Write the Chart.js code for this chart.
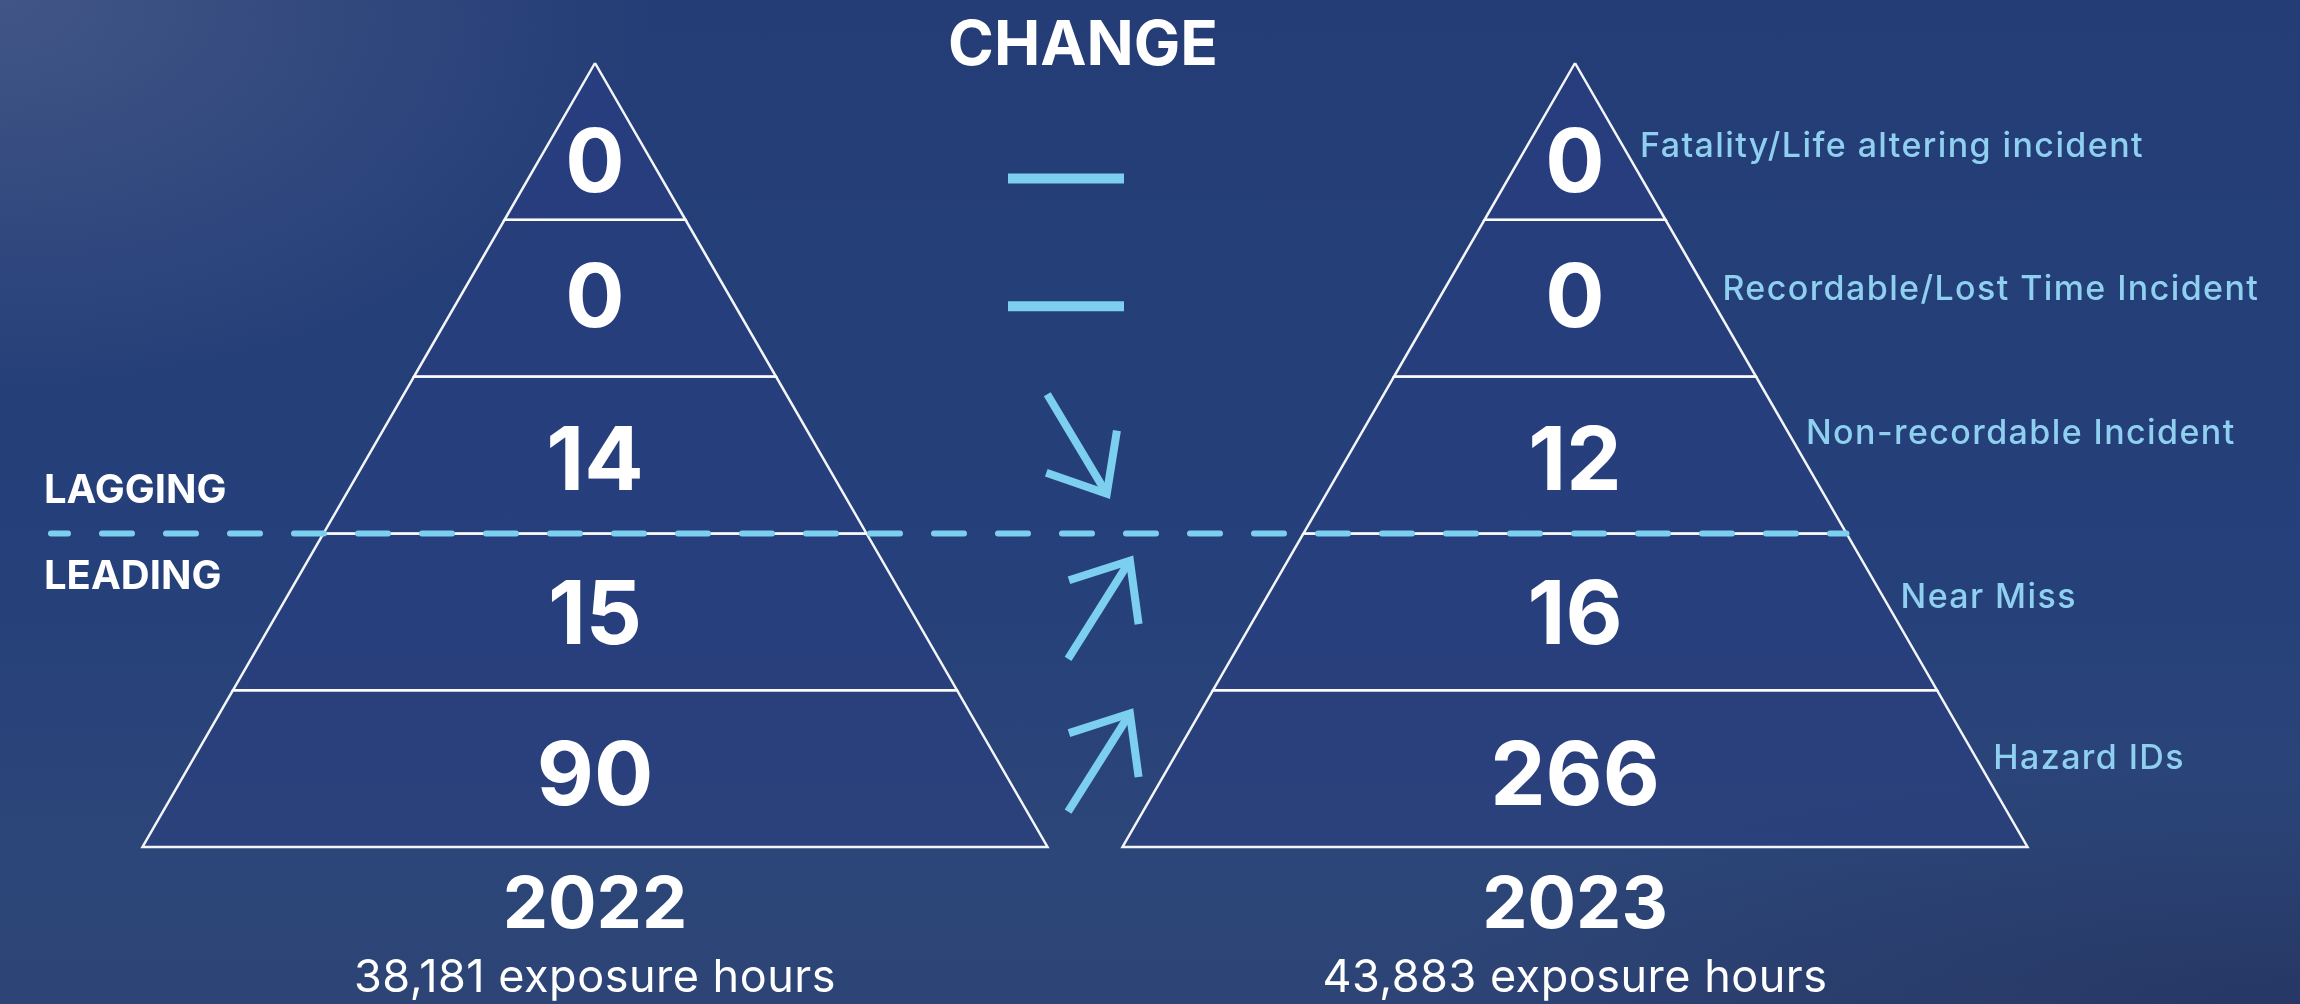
<!DOCTYPE html>
<html><head><meta charset="utf-8">
<script src="https://cdn.jsdelivr.net/npm/chart.js@4.4.1/dist/chart.umd.min.js"></script>
<style>
html,body{margin:0;padding:0;width:2300px;height:1004px;overflow:hidden;}
body{background:
 radial-gradient(ellipse 650px 400px at 0px 0px, rgba(95,110,150,0.5) 0%, rgba(95,110,150,0) 100%),
 radial-gradient(ellipse 900px 240px at 2300px 1004px, rgba(30,40,80,0.45) 0%, rgba(30,40,80,0) 100%),
 linear-gradient(180deg, #243d76 0%, #25407a 55%, #2c4679 85%, #2d4475 100%);}
canvas{display:block}
</style></head><body>
<canvas id="c" width="2300" height="1004"></canvas>
<script>
// ---------- DATA (top of pyramid to bottom) ----------
const categories = ["Fatality/Life altering incident","Recordable/Lost Time Incident","Non-recordable Incident","Near Miss","Hazard IDs"];
const values2022 = [0, 0, 14, 15, 90];
const values2023 = [0, 0, 12, 16, 266];
const years = ["2022", "2023"];
const exposureHours = [38181, 43883];
const groupLabels = ["LAGGING", "LEADING"];
const laggingCount = 3;
const title = "CHANGE";

// ---------- LAYOUT ----------
const W = 2300, H = 1004;
const APEX_Y = 63, BASE_Y = 847, HALF_BASE = 452.5;
const CENTERS = [595, 1575];
const N = categories.length;
const BAND_H = (BASE_Y - APEX_Y) / N;
const FONT = "Inter";
const LIGHT = "#7dcff0";
const LABEL_COLOR = "#8fd0f0";
const valueYShift = [19, -3, 3, 0, 4];
const labelYShift = [3, -11, -23, -16, -12];
const changeYShift = [37, 8, -11, -2, -6];
const MID_X = (CENTERS[0] + CENTERS[1]) / 2;

const allValues = [values2022, values2023];
const halfW = y => (y - APEX_Y) / (BASE_Y - APEX_Y) * HALF_BASE;
const bandTop = k => APEX_Y + k * BAND_H;
const bandMid = k => APEX_Y + (k + 0.5) * BAND_H;

const datasets = [];
// pyramid band fills + outlines
CENTERS.forEach((cx, p) => {
  for (let k = 0; k < N; k++) {
    const y0 = bandTop(k), y1 = bandTop(k + 1);
    const pts = [
      {x: cx - halfW(y0), y: y0}, {x: cx + halfW(y0), y: y0},
      {x: cx + halfW(y1), y: y1}, {x: cx - halfW(y1), y: y1},
      {x: cx - halfW(y0), y: y0}
    ];
    datasets.push({
      label: years[p] + " " + categories[k],
      data: pts, showLine: true, fill: 'shape',
      backgroundColor: k === 0 ? "rgba(42,61,132,0.55)" : "rgba(42,62,128,0.55)",
      borderColor: "rgba(255,255,255,0.95)", borderWidth: 2.5,
      borderJoinStyle: 'miter', order: 3
    });
  }
});

// change symbols computed from the data
function arrowSets(cx, cy, dx, dy) {
  const len = Math.hypot(dx, dy); dx /= len; dy /= len;
  const L = 116, A = 64, ang = 40 * Math.PI / 180;
  const tail = {x: cx - dx * L / 2, y: cy - dy * L / 2};
  const tip = {x: cx + dx * L / 2, y: cy + dy * L / 2};
  const rx = -dx, ry = -dy;
  const rot = a => ({x: tip.x + (rx * Math.cos(a) - ry * Math.sin(a)) * A, y: tip.y + (rx * Math.sin(a) + ry * Math.cos(a)) * A});
  const common = {showLine: true, fill: false, borderColor: LIGHT, borderWidth: 8, borderCapStyle: 'butt', borderJoinStyle: 'miter', order: 1};
  return [
    Object.assign({label: 'shaft', data: [tail, tip]}, common),
    Object.assign({label: 'head', data: [rot(ang), tip, rot(-ang)]}, common)
  ];
}
for (let k = 0; k < N; k++) {
  const a = values2022[k], b = values2023[k];
  const cy = bandMid(k) + changeYShift[k];
  if (a === b) {
    datasets.push({label: 'same', data: [{x: MID_X - 77, y: cy}, {x: MID_X + 39, y: cy}], showLine: true, fill: false,
      borderColor: LIGHT, borderWidth: 10, borderCapStyle: 'butt', order: 1});
  } else if (b < a) {
    datasets.push(...arrowSets(MID_X - 8, cy, 58, 97));
  } else {
    datasets.push(...arrowSets(MID_X + 14, cy, 63, -100));
  }
}

// lagging / leading divider
const divY = bandTop(laggingCount);
datasets.push({label: 'divider', data: [{x: 51, y: divY}, {x: CENTERS[1] + halfW(divY), y: divY}],
  showLine: true, fill: false, borderColor: LIGHT, borderWidth: 6, borderDash: [30, 34], borderDashOffset: 13,
  borderCapStyle: 'round', order: 0});

const textPlugin = {
  id: 'texts',
  afterDatasetsDraw(chart) {
    const ctx = chart.ctx, xs = chart.scales.x, ys = chart.scales.y;
    const X = v => xs.getPixelForValue(v), Y = v => ys.getPixelForValue(v);
    const cap = 0.727;
    function txt(s, x, cy, size, weight, color, align, spacing) {
      ctx.font = `${weight} ${size}px ${FONT}`;
      ctx.letterSpacing = (spacing || 0) + 'px';
      ctx.fillStyle = color; ctx.textAlign = align; ctx.textBaseline = 'alphabetic';
      ctx.fillText(s, X(x), Y(cy) + cap * size / 2);
    }
    ctx.save();
    txt(title, MID_X - 2, 42.5, 62, 700, "#ffffff", 'center');
    CENTERS.forEach((cx, p) => {
      for (let k = 0; k < N; k++) {
        txt(String(allValues[p][k]), cx, bandMid(k) + valueYShift[k], 88, 700, "#ffffff", 'center');
      }
      txt(years[p], cx, 902, 72, 700, "#ffffff", 'center');
      txt(exposureHours[p].toLocaleString('en-US') + " exposure hours", cx, 976, 45, 400, "#ffffff", 'center', 0.5);
    });
    for (let k = 0; k < N; k++) {
      const cy = bandMid(k) + labelYShift[k];
      txt(categories[k], CENTERS[1] + halfW(cy) + 18, cy, 34, 500, LABEL_COLOR, 'left', 1.4);
    }
    txt(groupLabels[0], 44, 488, 40, 700, "#ffffff", 'left');
    txt(groupLabels[1], 44, 574, 40, 700, "#ffffff", 'left');
    ctx.restore();
  }
};

new Chart(document.getElementById('c'), {
  type: 'scatter',
  data: {datasets},
  options: {
    responsive: false, animation: false, devicePixelRatio: 1, events: [],
    layout: {padding: 0},
    plugins: {legend: {display: false}, tooltip: {enabled: false}},
    elements: {point: {radius: 0, hoverRadius: 0}, line: {tension: 0}},
    scales: {
      x: {type: 'linear', min: 0, max: W, display: false},
      y: {type: 'linear', min: 0, max: H, reverse: true, display: false}
    }
  },
  plugins: [textPlugin]
});
</script>
</body></html>
